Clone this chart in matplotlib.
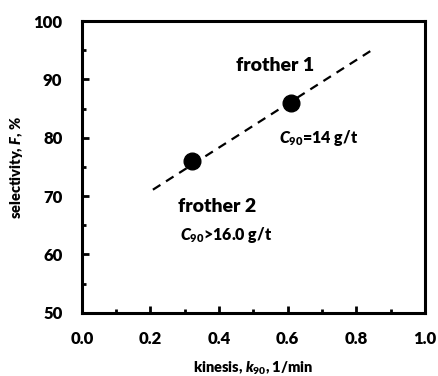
import numpy as np
from matplotlib import pyplot as plt

plt.rcParams['font.family'] = ['Lato', 'DejaVu Sans']
plt.rcParams['font.weight'] = 800
plt.rcParams['axes.labelweight'] = 800
plt.rcParams['mathtext.fontset'] = 'custom'
plt.rcParams['mathtext.it'] = 'Lato:italic:extrabold'
plt.rcParams['mathtext.rm'] = 'Lato:extrabold'

kinesis = [0.32, 0.61]
selectivity = [76, 86]
fit_x = [0.207, 0.845]
fit_y = [71.1, 95.0]
xticks = [0.0, 0.2, 0.4, 0.6, 0.8, 1.0]
xminor = [0.1, 0.3, 0.5, 0.7, 0.9]
yticks = [50, 60, 70, 80, 90, 100]
yminor = [55, 65, 75, 85, 95]

fig = plt.figure(figsize=(4.38, 3.76), dpi=100)
ax = fig.add_axes([0.187, 0.168, 0.783, 0.776])

ax.plot(fit_x, fit_y, color='black', linestyle=(0, (4, 3)), linewidth=1.6)
ax.plot(kinesis, selectivity, 'o', color='black', markersize=12)

W = 800
ax.text(0.563, 92.3, 'frother 1', ha='center', va='center', fontsize=14, fontweight=W)
ax.text(0.69, 80.0, '$C_{90}$=14 g/t', ha='center', va='center', fontsize=11.5, fontweight=W)
ax.text(0.395, 68.2, 'frother 2', ha='center', va='center', fontsize=14, fontweight=W)
ax.text(0.42, 63.4, '$C_{90}$>16.0 g/t', ha='center', va='center', fontsize=11.5, fontweight=W)

ax.set_xlim(0, 1)
ax.set_ylim(50, 100)
ax.set_xticks(xticks, [f'{v:.1f}' for v in xticks], fontweight=W, fontsize=12)
ax.set_xticks(xminor, minor=True)
ax.set_yticks(yticks, [str(v) for v in yticks], fontweight=W, fontsize=12)
ax.set_yticks(yminor, minor=True)
ax.tick_params(which='both', direction='in', width=2)
ax.tick_params(which='major', length=5, pad=13)
ax.tick_params(axis='y', which='major', pad=14)
ax.tick_params(which='minor', length=3)
for s in ax.spines.values():
    s.set_linewidth(2.2)

ax.set_xlabel('kinesis, $k_{90}$, 1/min', fontsize=10.5, fontweight=W, labelpad=9)
ax.set_ylabel('selectivity, $F$, %', fontsize=10.5, fontweight=W, labelpad=6)

fig.savefig('out.png', dpi=100)
